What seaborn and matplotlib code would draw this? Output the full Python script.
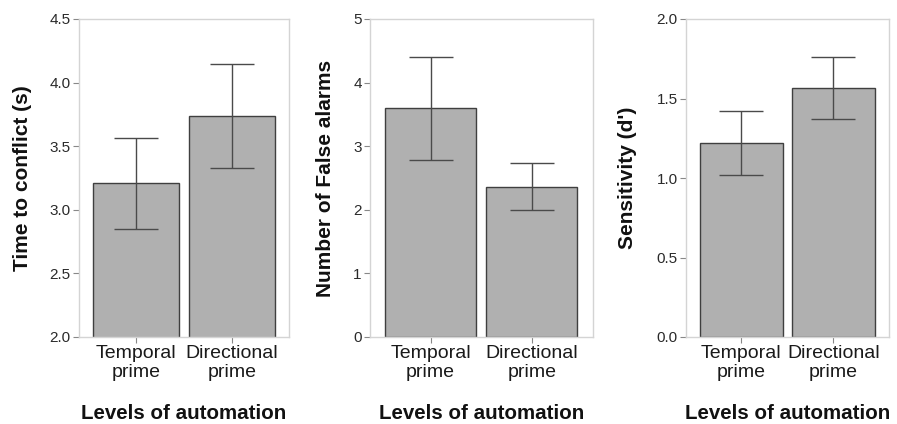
import matplotlib
matplotlib.use("Agg")
import matplotlib.pyplot as plt
import seaborn as sns
import pandas as pd

sns.set_theme(style="white")
plt.rcParams["font.family"] = ["Liberation Sans", "DejaVu Sans"]

conditions = ["Temporal\nprime", "Directional\nprime"]

ttc_mean = [3.21, 3.735]
ttc_low = [2.85, 3.33]
ttc_high = [3.567, 4.144]

fa_mean = [3.605, 2.355]
fa_low = [2.79, 1.99]
fa_high = [4.41, 2.73]

dprime_mean = [1.218, 1.564]
dprime_low = [1.019, 1.371]
dprime_high = [1.421, 1.759]

panels = [
    ("Time to conflict (s)", ttc_mean, ttc_low, ttc_high, (2.0, 4.5), [2.0, 2.5, 3.0, 3.5, 4.0, 4.5], "{:.1f}"),
    ("Number of False alarms", fa_mean, fa_low, fa_high, (0, 5), [0, 1, 2, 3, 4, 5], "{:.0f}"),
    ("Sensitivity (d')", dprime_mean, dprime_low, dprime_high, (0, 2.0), [0.0, 0.5, 1.0, 1.5, 2.0], "{:.1f}"),
]

axes_boxes = [
    [79 / 897, 1 - 337 / 424, 210 / 897, 318 / 424],
    [370 / 897, 1 - 337 / 424, 222.5 / 897, 318 / 424],
    [686 / 897, 1 - 337 / 424, 202.7 / 897, 318 / 424],
]
# right edge (descender side) of each rotated y label, in figure pixels
ylabel_x = [32 / 897, 335 / 897, 637 / 897]

fig = plt.figure(figsize=(8.97, 4.24), dpi=100)

for (ylab, mean, low, high, ylim, ticks, fmt), box, ylx in zip(panels, axes_boxes, ylabel_x):
    ax = fig.add_axes(box)
    df = pd.DataFrame({"condition": conditions, "value": mean})
    sns.barplot(data=df, x="condition", y="value", ax=ax, color="#B0B0B0",
                saturation=1, width=0.9, edgecolor="#3F3F3F", linewidth=1.0,
                errorbar=None)
    yerr = [[m - l for m, l in zip(mean, low)], [h - m for m, h in zip(mean, high)]]
    ax.errorbar(range(len(mean)), mean, yerr=yerr, fmt="none", ecolor="#4A4A4A",
                elinewidth=1.0, capsize=15.5, capthick=1.0, zorder=5)
    ax.set_xlim(-0.6, 1.6)
    ax.set_ylim(*ylim)
    ax.set_yticks(ticks)
    ax.set_yticklabels([fmt.format(t) for t in ticks])
    for s in ax.spines.values():
        s.set_color("#D4D4D4")
        s.set_linewidth(1.0)
    ax.tick_params(axis="both", which="both", direction="out", length=4, width=0.8,
                   color="#888888", bottom=True, left=True)
    ax.tick_params(axis="y", labelsize=11, labelcolor="#2A2A2A", pad=2)
    ax.tick_params(axis="x", labelsize=14, labelcolor="#1A1A1A", pad=2)
    for t in ax.get_xticklabels():
        t.set_linespacing(1.15)
    ax.set_xlabel("Levels of automation", fontsize=14.8, fontweight="bold", color="#111111")
    ax.xaxis.set_label_coords(0.5, -0.21)
    ax.set_ylabel(ylab, fontsize=15, fontweight="bold", color="#111111")
    ax.yaxis.set_label_coords((ylx - box[0]) / box[2], 0.5)

fig.savefig("out.png", dpi=100, facecolor="white")
